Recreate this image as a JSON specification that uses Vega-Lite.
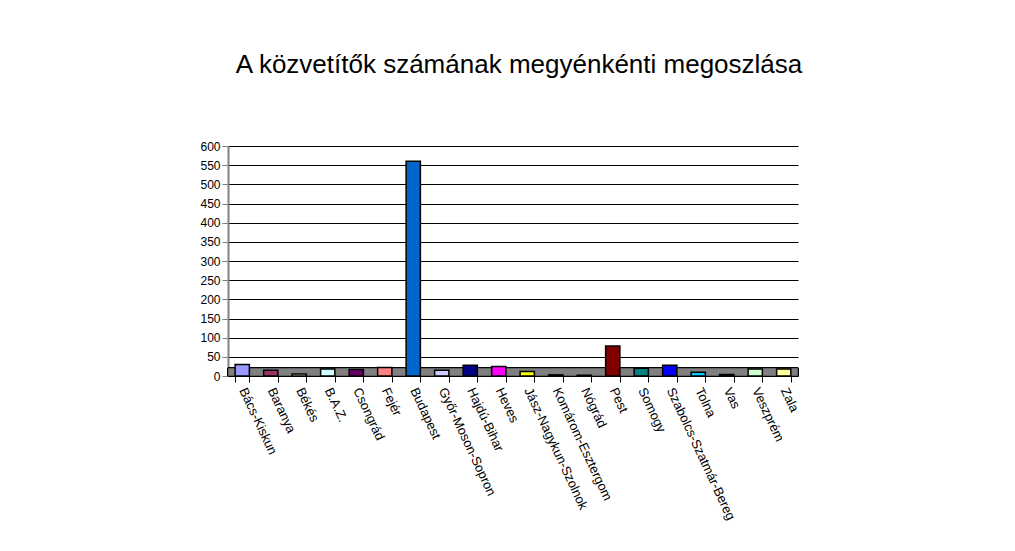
{
  "$schema": "https://vega.github.io/schema/vega-lite/v6.json",
  "autosize": "none",
  "width": 570,
  "height": 230,
  "padding": {"left": 228, "top": 146, "right": 217, "bottom": 175},
  "background": "white",
  "title": {
    "text": "A közvetítők számának megyénkénti megoszlása",
    "font": "Liberation Sans",
    "fontSize": 26,
    "fontWeight": "normal",
    "color": "black",
    "anchor": "middle",
    "offset": 62,
    "dx": 6
  },
  "config": {
    "view": {"stroke": null},
    "font": "Liberation Sans"
  },
  "data": {
    "values": [
      {"megye": "Bács-Kiskun", "db": 30, "szin": "#9999FF"},
      {"megye": "Baranya", "db": 15, "szin": "#993366"},
      {"megye": "Békés", "db": 5, "szin": "#FFFFCC"},
      {"megye": "B.A.Z.", "db": 18, "szin": "#CCFFFF"},
      {"megye": "Csongrád", "db": 17, "szin": "#660066"},
      {"megye": "Fejér", "db": 22, "szin": "#FF8080"},
      {"megye": "Budapest", "db": 560, "szin": "#0066CC"},
      {"megye": "Győr-Moson-Sopron", "db": 15, "szin": "#CCCCFF"},
      {"megye": "Hajdú-Bihar", "db": 28, "szin": "#000080"},
      {"megye": "Heves", "db": 25, "szin": "#FF00FF"},
      {"megye": "Jász-Nagykun-Szolnok", "db": 12, "szin": "#FFFF00"},
      {"megye": "Komárom-Esztergom", "db": 3, "szin": "#00FFFF"},
      {"megye": "Nógrád", "db": 2, "szin": "#800080"},
      {"megye": "Pest", "db": 78, "szin": "#800000"},
      {"megye": "Somogy", "db": 20, "szin": "#008080"},
      {"megye": "Szabolcs-Szatmár-Bereg", "db": 28, "szin": "#0000FF"},
      {"megye": "Tolna", "db": 10, "szin": "#00CCFF"},
      {"megye": "Vas", "db": 4, "szin": "#CCFFFF"},
      {"megye": "Veszprém", "db": 18, "szin": "#CCFFCC"},
      {"megye": "Zala", "db": 18, "szin": "#FFFF99"}
    ]
  },
  "layer": [
    {
      "mark": {"type": "rect", "color": "#808080", "stroke": "black", "strokeWidth": 0.5},
      "encoding": {
        "y": {
          "datum": 0,
          "type": "quantitative",
          "scale": {"domain": [0, 600], "nice": false},
          "axis": {
            "title": null,
            "values": [0, 50, 100, 150, 200, 250, 300, 350, 400, 450, 500, 550, 600],
            "labelFontSize": 12,
            "labelColor": "black",
            "grid": true,
            "gridColor": "black",
            "gridWidth": 1,
            "domainColor": "#808080",
            "domainWidth": 2,
            "tickColor": "#808080",
            "tickSize": 6
          }
        },
        "y2": {"datum": 21}
      }
    },
    {
      "mark": {"type": "bar", "stroke": "black", "strokeWidth": 1.5},
      "encoding": {
        "x": {
          "field": "megye",
          "type": "nominal",
          "sort": null,
          "scale": {"paddingInner": 0.5, "paddingOuter": 0.25},
          "axis": {
            "title": null,
            "grid": false,
            "labelAngle": 65,
            "labelAlign": "left",
            "labelBaseline": "middle",
            "labelFontSize": 13,
            "labelColor": "black",
            "labelPadding": 6,
            "domainColor": "black",
            "tickColor": "black",
            "tickSize": 6,
            "tickBand": "extent",
            "labelLimit": 300
          }
        },
        "y": {
          "field": "db",
          "type": "quantitative",
          "scale": {"domain": [0, 600], "nice": false},
          "axis": {
            "title": null,
            "values": [0, 50, 100, 150, 200, 250, 300, 350, 400, 450, 500, 550, 600],
            "labelFontSize": 12,
            "labelColor": "black",
            "grid": true,
            "gridColor": "black",
            "gridWidth": 1,
            "domainColor": "#808080",
            "domainWidth": 2,
            "tickColor": "#808080",
            "tickSize": 6
          }
        },
        "color": {"field": "szin", "type": "nominal", "scale": null, "legend": null}
      }
    }
  ]
}
